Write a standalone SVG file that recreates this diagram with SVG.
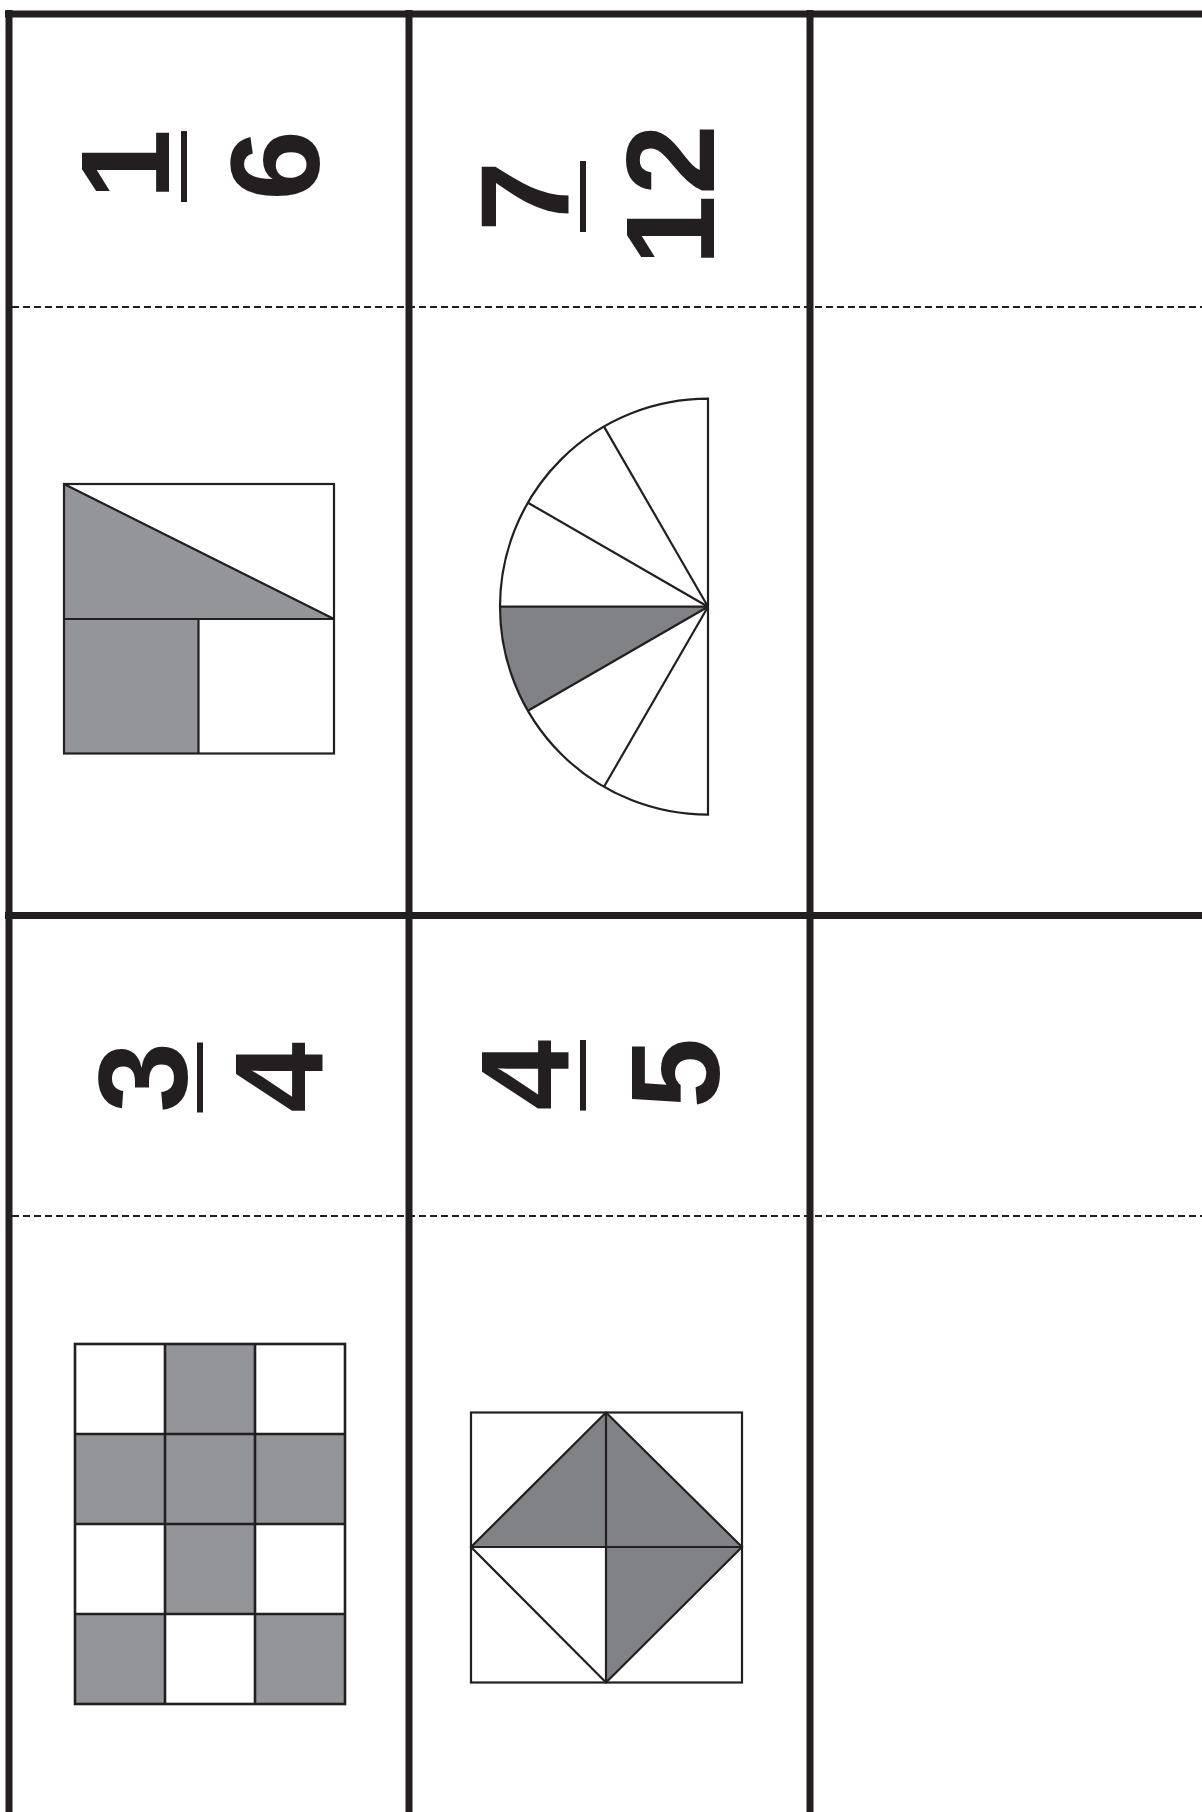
<svg xmlns="http://www.w3.org/2000/svg" width="1202" height="1812" viewBox="0 0 1202 1812">
<style>
.frame{stroke:#231f20;stroke-width:7;fill:none}
.dash{stroke:#231f20;stroke-width:2;stroke-dasharray:7 4;fill:none}
.num{font-family:"Liberation Sans",Arial,sans-serif;font-weight:bold;font-size:127px;fill:#231f20;text-anchor:middle}
.bar{stroke:#231f20;stroke-width:6}
.ln{stroke:#231f20;stroke-width:2.2;fill:none;stroke-linejoin:miter}
.g1{fill:#939598}
.g2{fill:#808285}
.w{fill:#ffffff}
</style>
<rect width="1202" height="1812" fill="#ffffff"/>
<g id="grid">
<line class="frame" x1="5" y1="14" x2="1202" y2="14"/>
<line class="frame" x1="5" y1="915.5" x2="1202" y2="915.5"/>
<line class="frame" x1="9" y1="10" x2="9" y2="1812"/>
<line class="frame" x1="409" y1="10" x2="409" y2="1812"/>
<line class="frame" x1="810" y1="10" x2="810" y2="1812"/>
<line class="dash" x1="12" y1="307" x2="1202" y2="307"/>
<line class="dash" x1="12" y1="1216" x2="1202" y2="1216"/>
</g>
<g id="cell-one-sixth">
<g transform="translate(184 166.5) rotate(-90)">
<text class="num" x="2" y="-15">1</text>
<line class="bar" x1="-35.5" y1="0" x2="35.5" y2="0"/>
<text class="num" x="1" y="135">6</text>
</g>
<polygon class="g1" points="64,484 334,619 64,619"/>
<rect class="g1" x="64" y="619" width="134.5" height="134.5"/>
<rect class="ln" x="64" y="484" width="270" height="269.5"/>
<line class="ln" x1="64" y1="619" x2="334" y2="619"/>
<line class="ln" x1="198.5" y1="619" x2="198.5" y2="753.5"/>
<line class="ln" x1="64" y1="484" x2="334" y2="619"/>
</g>
<g id="cell-seven-twelfths">
<g transform="translate(583 196.5) rotate(-90)">
<text class="num" x="0" y="-14">7</text>
<line class="bar" x1="-35.5" y1="0" x2="35.5" y2="0"/>
<text class="num" x="1.5" y="131">12</text>
</g>
<path class="g2" d="M708,606.7 L500,606.7 A208,208 0 0 0 527.9,710.7 Z"/>
<path class="ln" d="M708,398.7 A208,208 0 0 0 708,814.7 Z"/>
<line class="ln" x1="708" y1="606.7" x2="604" y2="426.6"/>
<line class="ln" x1="708" y1="606.7" x2="527.9" y2="502.7"/>
<line class="ln" x1="708" y1="606.7" x2="500" y2="606.7"/>
<line class="ln" x1="708" y1="606.7" x2="527.9" y2="710.7"/>
<line class="ln" x1="708" y1="606.7" x2="604" y2="786.8"/>
</g>
<g id="cell-three-quarters">
<g transform="translate(200 1077.5) rotate(-90)">
<text class="num" x="0" y="-13">3</text>
<line class="bar" x1="-35" y1="0" x2="35" y2="0"/>
<text class="num" x="0" y="123">4</text>
</g>
<rect class="g1" x="165" y="1344" width="90" height="90"/>
<rect class="g1" x="75" y="1434" width="270" height="90"/>
<rect class="g1" x="165" y="1524" width="90" height="90"/>
<rect class="g1" x="75" y="1614" width="90" height="90"/>
<rect class="g1" x="255" y="1614" width="90" height="90"/>
<g style="stroke-width:2.6">
<rect class="ln" style="stroke-width:2.6" x="75" y="1344" width="270" height="360"/>
<line class="ln" style="stroke-width:2.6" x1="165" y1="1344" x2="165" y2="1704"/>
<line class="ln" style="stroke-width:2.6" x1="255" y1="1344" x2="255" y2="1704"/>
<line class="ln" style="stroke-width:2.6" x1="75" y1="1434" x2="345" y2="1434"/>
<line class="ln" style="stroke-width:2.6" x1="75" y1="1524" x2="345" y2="1524"/>
<line class="ln" style="stroke-width:2.6" x1="75" y1="1614" x2="345" y2="1614"/>
</g>
</g>
<g id="cell-four-fifths">
<g transform="translate(583 1075.3) rotate(-90)">
<text class="num" x="0" y="-14">4</text>
<line class="bar" x1="-35.3" y1="0" x2="35.3" y2="0"/>
<text class="num" x="2" y="136">5</text>
</g>
<polygon class="g2" points="471,1547 606,1412.5 742,1547 606,1682.5 606,1547"/>
<rect class="ln" x="471" y="1412.5" width="271" height="270"/>
<polygon class="ln" points="606,1412.5 742,1547 606,1682.5 471,1547"/>
<line class="ln" x1="606" y1="1412.5" x2="606" y2="1682.5"/>
<line class="ln" x1="471" y1="1547" x2="742" y2="1547"/>
</g>
</svg>
